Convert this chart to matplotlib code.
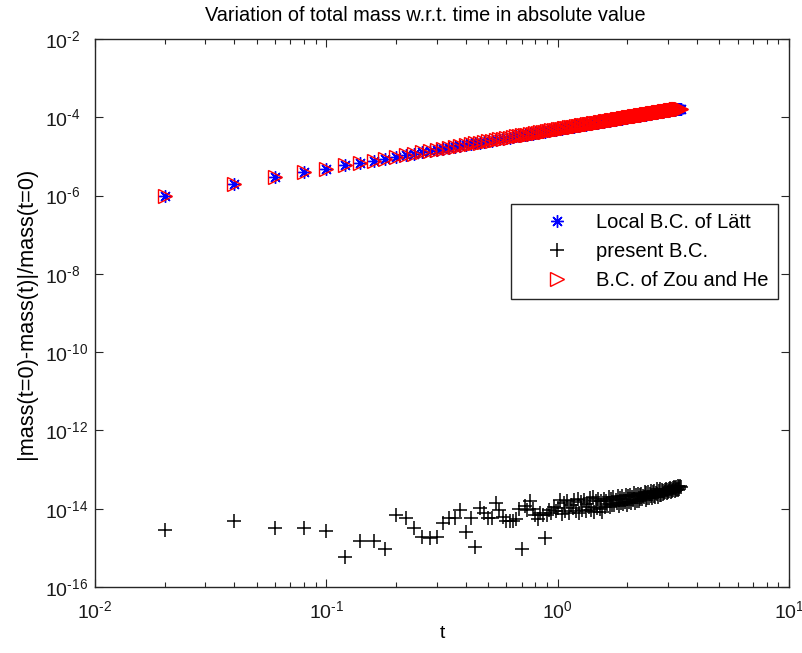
import math

import matplotlib
matplotlib.use("Agg")
import matplotlib.pyplot as plt
from matplotlib.ticker import FixedLocator, FuncFormatter, NullLocator

# time samples t (every 0.02)
t = [
    0.02, 0.04, 0.06, 0.08, 0.10, 0.12, 0.14, 0.16, 0.18, 0.20,
    0.22, 0.24, 0.26, 0.28, 0.30, 0.32, 0.34, 0.36, 0.38, 0.40,
    0.42, 0.44, 0.46, 0.48, 0.50, 0.52, 0.54, 0.56, 0.58, 0.60,
    0.62, 0.64, 0.66, 0.68, 0.70, 0.72, 0.74, 0.76, 0.78, 0.80,
    0.82, 0.84, 0.86, 0.88, 0.90, 0.92, 0.94, 0.96, 0.98, 1.00,
    1.02, 1.04, 1.06, 1.08, 1.10, 1.12, 1.14, 1.16, 1.18, 1.20,
    1.22, 1.24, 1.26, 1.28, 1.30, 1.32, 1.34, 1.36, 1.38, 1.40,
    1.42, 1.44, 1.46, 1.48, 1.50, 1.52, 1.54, 1.56, 1.58, 1.60,
    1.62, 1.64, 1.66, 1.68, 1.70, 1.72, 1.74, 1.76, 1.78, 1.80,
    1.82, 1.84, 1.86, 1.88, 1.90, 1.92, 1.94, 1.96, 1.98, 2.00,
    2.02, 2.04, 2.06, 2.08, 2.10, 2.12, 2.14, 2.16, 2.18, 2.20,
    2.22, 2.24, 2.26, 2.28, 2.30, 2.32, 2.34, 2.36, 2.38, 2.40,
    2.42, 2.44, 2.46, 2.48, 2.50, 2.52, 2.54, 2.56, 2.58, 2.60,
    2.62, 2.64, 2.66, 2.68, 2.70, 2.72, 2.74, 2.76, 2.78, 2.80,
    2.82, 2.84, 2.86, 2.88, 2.90, 2.92, 2.94, 2.96, 2.98, 3.00,
    3.02, 3.04, 3.06, 3.08, 3.10, 3.12, 3.14, 3.16, 3.18, 3.20,
    3.22, 3.24, 3.26, 3.28, 3.30, 3.32, 3.34, 3.36, 3.38, 3.40,
]

# |mass(0)-mass(t)|/mass(0), local B.C. of Lätt, in units of 1e-6
latt_e6 = [
    0.98, 1.96, 2.94, 3.92, 4.90, 5.88, 6.86, 7.84, 8.82, 9.80,
    10.8, 11.8, 12.7, 13.7, 14.7, 15.7, 16.7, 17.6, 18.6, 19.6,
    20.6, 21.6, 22.5, 23.5, 24.5, 25.5, 26.5, 27.4, 28.4, 29.4,
    30.4, 31.4, 32.3, 33.3, 34.3, 35.3, 36.3, 37.2, 38.2, 39.2,
    40.2, 41.2, 42.1, 43.1, 44.1, 45.1, 46.1, 47.0, 48.0, 49.0,
    50.0, 51.0, 51.9, 52.9, 53.9, 54.9, 55.9, 56.8, 57.8, 58.8,
    59.8, 60.8, 61.7, 62.7, 63.7, 64.7, 65.7, 66.6, 67.6, 68.6,
    69.6, 70.6, 71.5, 72.5, 73.5, 74.5, 75.5, 76.4, 77.4, 78.4,
    79.4, 80.4, 81.3, 82.3, 83.3, 84.3, 85.3, 86.2, 87.2, 88.2,
    89.2, 90.2, 91.1, 92.1, 93.1, 94.1, 95.1, 96.0, 97.0, 98.0,
    99.0, 100.0, 100.9, 101.9, 102.9, 103.9, 104.9, 105.8, 106.8, 107.8,
    108.8, 109.8, 110.7, 111.7, 112.7, 113.7, 114.7, 115.6, 116.6, 117.6,
    118.6, 119.6, 120.5, 121.5, 122.5, 123.5, 124.5, 125.4, 126.4, 127.4,
    128.4, 129.4, 130.3, 131.3, 132.3, 133.3, 134.3, 135.2, 136.2, 137.2,
    138.2, 139.2, 140.1, 141.1, 142.1, 143.1, 144.1, 145.0, 146.0, 147.0,
    148.0, 149.0, 149.9, 150.9, 151.9, 152.9, 153.9, 154.8, 155.8, 156.8,
    157.8, 158.8, 159.7, 160.7, 161.7, 162.7, 163.7, 164.6, 165.6, 166.6,
]

# B.C. of Zou and He, indistinguishable from Lätt at this scale (1e-6)
zou_he_e6 = list(latt_e6)

# present B.C., in units of 1e-15
present_e15 = [
    2.85, 4.8, 3.2, 3.2, 2.7, 0.6, 1.5, 1.5, 0.95, 6.9,
    5.9, 3.3, 1.9, 1.75, 1.9, 4.2, 5.7, 5.7, 9.3, 2.6,
    5.7, 1.07, 10.2, 7.6, 5.7, 5.9, 13.8, 9.3, 6.0, 4.9,
    4.9, 4.9, 5.5, 10.0, 0.95, 12.0, 9.3, 16.0, 10.0, 7.0,
    5.5, 8.0, 7.0, 1.8, 7.0, 9.5, 8.0, 11.0, 8.5, 10.5,
    17.0, 7.2, 13.9, 9.0, 15.7, 7.9, 12.4, 10.3, 17.1, 8.6,
    18.0, 7.6, 14.8, 9.5, 16.8, 8.5, 13.4, 11.1, 18.6, 9.4,
    19.5, 8.3, 16.1, 10.5, 17.8, 10.0, 16.2, 8.2, 17.9, 11.2,
    15.5, 12.9, 19.4, 11.0, 17.6, 12.7, 19.5, 12.2, 16.8, 14.0,
    21.1, 11.9, 19.1, 13.7, 21.1, 13.1, 18.2, 15.0, 22.7, 12.8,
    20.6, 14.8, 22.9, 14.2, 19.8, 16.4, 24.8, 14.0, 22.6, 16.2,
    24.0, 15.5, 22.5, 17.4, 24.0, 17.2, 21.4, 19.6, 26.0, 16.8,
    24.5, 18.9, 26.2, 18.7, 23.4, 21.4, 28.5, 18.4, 26.8, 20.7,
    28.6, 20.4, 25.5, 23.3, 31.0, 20.0, 29.1, 22.4, 31.0, 22.1,
    29.5, 23.9, 28.9, 25.1, 30.0, 26.1, 31.1, 25.2, 30.6, 26.5,
    31.7, 27.6, 32.9, 26.7, 32.4, 28.2, 33.7, 29.4, 34.9, 28.4,
    34.5, 29.9, 35.9, 31.3, 37.3, 30.2, 36.7, 31.9, 38.2, 35.0,
]

labels = ["Local B.C. of Lätt", "present B.C.", "B.C. of Zou and He"]
x_decades = [-2, -1, 0, 1]
y_decades = [-16, -14, -12, -10, -8, -6, -4, -2]

plt.rcParams["font.family"] = ["Liberation Sans", "DejaVu Sans"]
plt.rcParams["mathtext.fontset"] = "custom"
plt.rcParams["mathtext.rm"] = "Liberation Sans"
plt.rcParams["mathtext.it"] = "Liberation Sans"

fig = plt.figure(figsize=(8.03, 6.53), dpi=100)
ax = fig.add_axes([95 / 803, 1 - 587 / 653, 694 / 803, 548 / 653])

latt = [v * 1e-6 for v in latt_e6]
zou = [v * 1e-6 for v in zou_he_e6]
present = [v * 1e-15 for v in present_e15]

ax.plot(t, latt, linestyle="none", marker=(8, 2, 0), ms=9, mew=1.0,
        color="#0000ff", label=labels[0])
ax.plot(t, present, linestyle="none", marker="+", ms=10, mew=1.1,
        color="black", label=labels[1])
ax.plot(t, zou, linestyle="none", marker=">", ms=10, mew=1.0,
        mfc="none", mec="#ff0000", label=labels[2])

ax.set_xscale("log")
ax.set_yscale("log")
ax.set_xlim(10.0 ** x_decades[0], 10.0 ** x_decades[-1])
ax.set_ylim(10.0 ** y_decades[0], 10.0 ** y_decades[-1])


def pow_label(v, pos):
    e = int(round(math.log10(v)))
    if e < 0:
        return r"$\mathregular{10^{\text{-}%d}}$" % (-e)
    return r"$\mathregular{10^{%d}}$" % e


ax.xaxis.set_major_locator(FixedLocator([10.0 ** d for d in x_decades]))
ax.xaxis.set_minor_locator(FixedLocator(
    [k * 10.0 ** d for d in x_decades[:-1] for k in range(2, 10)]))
ax.yaxis.set_major_locator(FixedLocator([10.0 ** d for d in y_decades]))
ax.yaxis.set_minor_locator(NullLocator())
ax.xaxis.set_major_formatter(FuncFormatter(pow_label))
ax.yaxis.set_major_formatter(FuncFormatter(pow_label))

edge = "#262626"
for s in ax.spines.values():
    s.set_color(edge)
    s.set_linewidth(1.0)
ax.tick_params(which="both", direction="in", top=True, right=True,
               color=edge, width=0.8, labelsize=14, labelcolor="#1a1a1a")
ax.tick_params(which="major", length=5.5)
ax.tick_params(which="minor", length=3.5)
ax.tick_params(axis="x", pad=9.5)
# MATLAB-like: the "10" of every y label starts at the same x
ax.tick_params(axis="y", pad=36)
plt.setp(ax.get_yticklabels(), ha="left")

ax.set_title("Variation of total mass w.r.t. time in absolute value",
             fontsize=14.3, pad=13, x=0.476)
ax.set_xlabel("t", fontsize=14, labelpad=2)
ax.set_ylabel("|mass(t=0)-mass(t)|/mass(t=0)", fontsize=15.7, labelpad=6)

leg = ax.legend(loc="upper right", bbox_to_anchor=(0.984, 0.699),
                borderaxespad=0, fontsize=14.5, numpoints=1, fancybox=False,
                framealpha=1, edgecolor=edge, borderpad=0.45,
                labelspacing=0.5, handlelength=3.7, handletextpad=0.1)
leg.get_frame().set_linewidth(1.0)

fig.savefig("out.png", dpi=100, facecolor="white")
